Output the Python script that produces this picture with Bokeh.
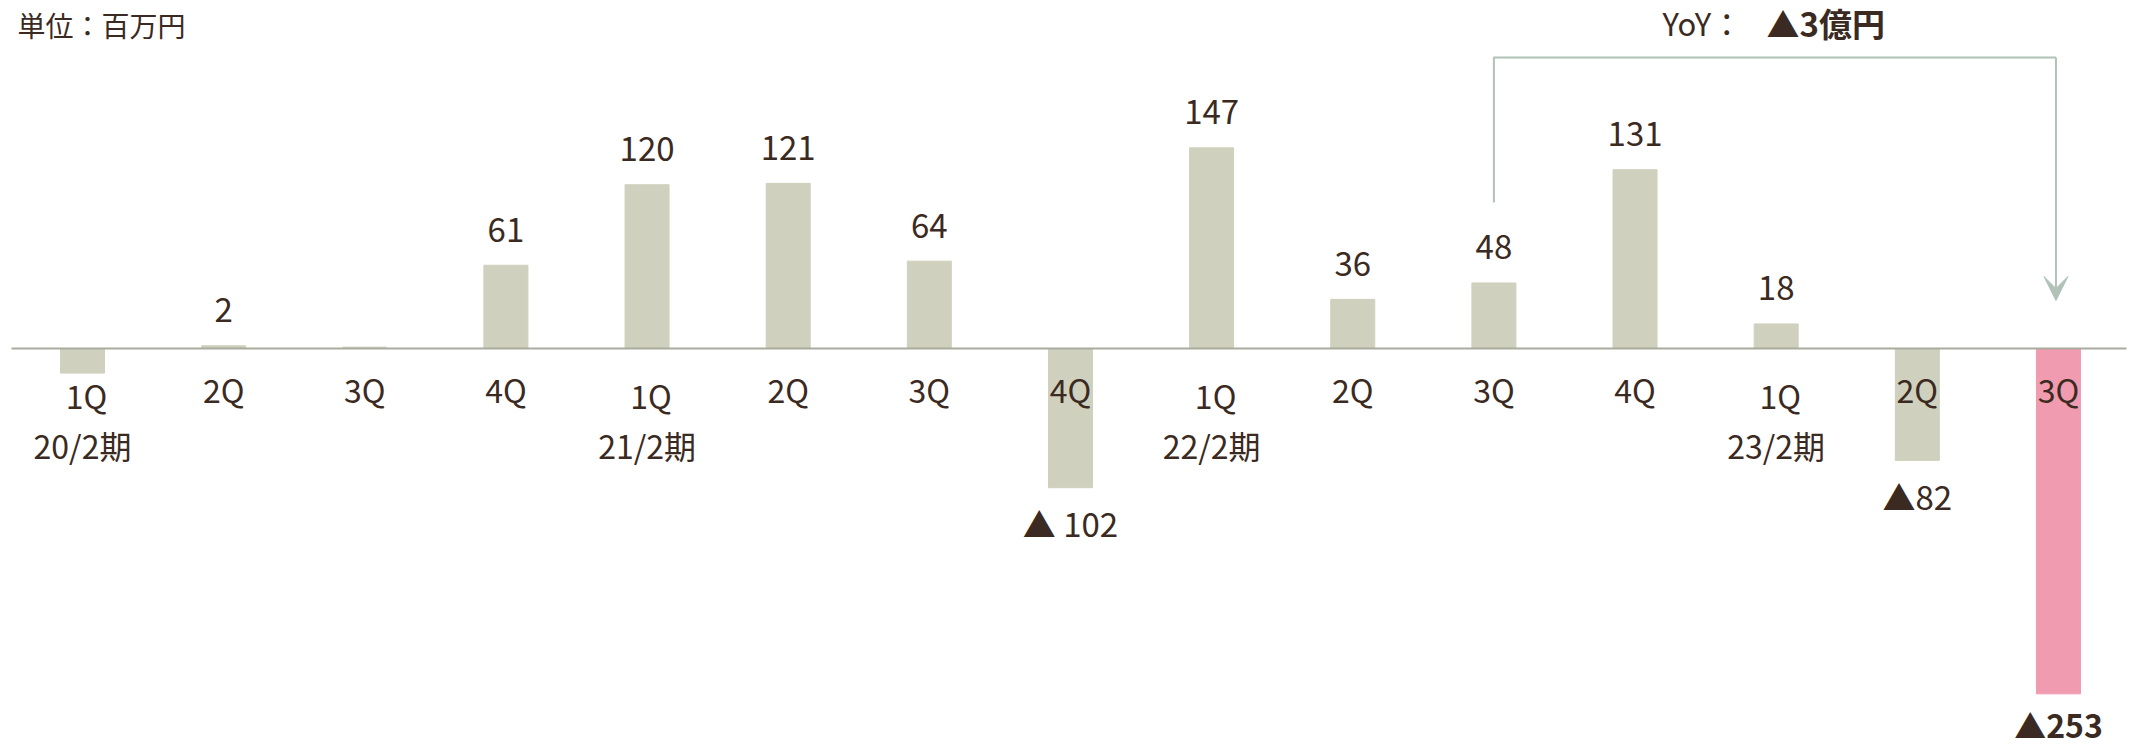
from bokeh.plotting import figure
from bokeh.models import ColumnDataSource, Range1d, Label, Arrow, VeeHead
from bokeh.core.properties import value
from bokeh.embed import file_html
from bokeh.resources import INLINE

# ---- data ----
quarters = ["1Q", "2Q", "3Q", "4Q", "1Q", "2Q", "3Q", "4Q",
            "1Q", "2Q", "3Q", "4Q", "1Q", "2Q", "3Q"]
values = [-18, 2, 1, 61, 120, 121, 64, -102, 147, 36, 48, 131, 18, -82, -253]
value_labels = ["", "2", "", "61", "120", "121", "64", "▲ 102",
                "147", "36", "48", "131", "18", "▲82", "▲253"]
periods = ["20/2期", "21/2期", "22/2期", "23/2期"]
period_index = [0, 4, 8, 12]
unit_label = "単位：百万円"
yoy_prefix = "YoY："
yoy_value = "▲3億円"

# ---- style / layout ----
FONT = "Noto Sans CJK JP"
TXT = "#3b2a21"
BAR = "#cfd0bd"
HIGHLIGHT = "#f19bb0"
AXIS = "#a9ab9d"
BRACKET = "#b1c2b8"

W, H = 2140, 747
PX_PER_CAT = 141.14
FIRST_X = 82
PX_PER_UNIT = 1.365
BASE_Y = 348

x0 = -FIRST_X / PX_PER_CAT
x1 = (W - FIRST_X) / PX_PER_CAT
y1 = BASE_Y / PX_PER_UNIT
y0 = -(H - BASE_Y) / PX_PER_UNIT


def ypix(py):
    """page pixel row -> data y"""
    return (BASE_Y - py) / PX_PER_UNIT


def xpix(px):
    return (px - FIRST_X) / PX_PER_CAT


p = figure(width=W, height=H, output_backend="svg", toolbar_location=None,
           x_range=Range1d(x0, x1), y_range=Range1d(y0, y1),
           min_border=0, outline_line_color=None)
p.axis.visible = False
p.grid.visible = False
p.background_fill_color = "white"
p.border_fill_color = "white"

n = len(values)
xs = list(range(n))
colors = [BAR] * (n - 1) + [HIGHLIGHT]
bar_src = ColumnDataSource(dict(x=xs, top=values, color=colors))
p.vbar(x="x", top="top", bottom=0, width=44 / PX_PER_CAT, color="color",
       source=bar_src)

# baseline
p.line(x=[xpix(11), xpix(2126)], y=[0, 0], line_color=AXIS, line_width=2)

# value labels
up = 35.5 / PX_PER_UNIT
down = 35.5 / PX_PER_UNIT
reg = dict(x=[], y=[], t=[])
bold = dict(x=[], y=[], t=[])
for i, (v, t) in enumerate(zip(values, value_labels)):
    if not t:
        continue
    d = bold if i == n - 1 else reg
    d["x"].append(i)
    d["y"].append(v + up if v >= 0 else v - down)
    d["t"].append(t)
p.text(x="x", y="y", text="t", source=ColumnDataSource(reg), text_font=value(FONT),
       text_font_size="33px", text_color=TXT, text_align="center",
       text_baseline="middle")
p.text(x="x", y="y", text="t", source=ColumnDataSource(bold), text_font=value(FONT),
       text_font_size="32px", text_font_style="bold", text_color=TXT,
       text_align="center", text_baseline="middle", y_offset=-5)

# quarter labels
q1 = [i for i, q in enumerate(quarters) if q == "1Q"]
qo = [i for i, q in enumerate(quarters) if q != "1Q"]
p.text(x=q1, y=[ypix(394)] * len(q1),
       text=[quarters[i] for i in q1], text_font=value(FONT),
       text_font_size="32px", text_color=TXT, text_align="center",
       text_baseline="middle", x_offset=4)
p.text(x=qo, y=[ypix(388)] * len(qo),
       text=[quarters[i] for i in qo], text_font=value(FONT),
       text_font_size="32px", text_color=TXT, text_align="center",
       text_baseline="middle")

# period labels
p.text(x=period_index, y=[ypix(444)] * len(periods),
       text=periods, text_font=value(FONT), text_font_size="32px",
       text_color=TXT, text_align="center", text_baseline="middle")

# YoY bracket
left_i, right_i = 10, n - 1
top_y = ypix(57)
start_y = ypix(202)
tip_y = ypix(300)
rx = right_i - 2.5 / PX_PER_CAT
p.line(x=[left_i, left_i, rx], y=[start_y, top_y, top_y],
       line_color=BRACKET, line_width=2)
p.add_layout(Arrow(end=VeeHead(size=24, fill_color=BRACKET, fill_alpha=1.0,
                               line_color=BRACKET),
                   x_start=rx, y_start=top_y, x_end=rx, y_end=tip_y,
                   line_color=BRACKET, line_width=2))

# titles
p.add_layout(Label(x=17, y=H - 24, x_units="screen", y_units="screen",
                   text=unit_label, text_font=FONT, text_font_size="28px",
                   text_color=TXT, text_baseline="middle", text_align="left"))
p.add_layout(Label(x=1662, y=H - 22, x_units="screen", y_units="screen",
                   text=yoy_prefix, text_font=FONT, text_font_size="31px",
                   text_color=TXT, text_baseline="middle", text_align="left"))
p.add_layout(Label(x=1766, y=H - 22, x_units="screen", y_units="screen",
                   text=yoy_value, text_font=FONT, text_font_size="33px",
                   text_font_style="bold", text_color=TXT,
                   text_baseline="middle", text_align="left"))

open("out.html", "w").write(file_html(p, INLINE))
